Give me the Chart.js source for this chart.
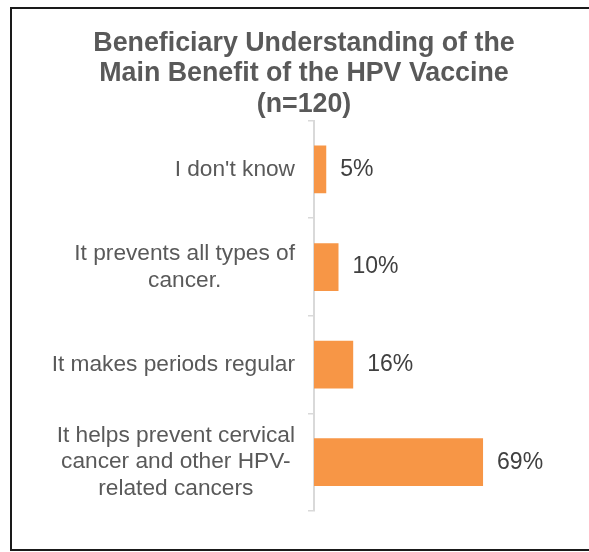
<!DOCTYPE html>
<html>
<head>
<meta charset="utf-8">
<script src="https://cdn.jsdelivr.net/npm/chart.js@4.4.1/dist/chart.umd.min.js"></script>
<style>
  html, body { margin: 0; padding: 0; background: #fff; overflow: hidden; }
  #wrap { position: absolute; left: 0; top: 0; width: 608px; height: 552px; }
  #frame { position: absolute; left: 10px; top: 7px; width: 700px; height: 544px;
           box-sizing: border-box; border: 2px solid #1a1a1a; pointer-events: none; }
</style>
</head>
<body>
<div id="wrap"><canvas id="chart" width="608" height="552"></canvas></div>
<div id="frame"></div>
<script>
// categories, top to bottom (each entry = lines of the label)
const categories = [
  ["I don't know"],
  ["It prevents all types of", "cancer."],
  ["It makes periods regular"],
  ["It helps prevent cervical", "cancer and other HPV-", "related cancers"]
];
// share of beneficiaries, in %
const shares = [5, 10, 16, 69];

const titleLines = [
  "Beneficiary Understanding of the",
  "Main Benefit of the HPV Vaccine",
  "(n=120)"
];

const FONT = "'Liberation Sans', Arial, Helvetica, sans-serif";
const xMax = 120;

// category labels: block right-aligned to the axis, lines centred inside the block
const catLabels = {
  id: 'catLabels',
  afterDraw(chart) {
    const ctx = chart.ctx;
    const y = chart.scales.y;
    const right = 295;
    const lh = 26.5;
    ctx.save();
    ctx.font = "22.7px " + FONT;
    ctx.fillStyle = '#595959';
    ctx.textAlign = 'center';
    ctx.textBaseline = 'middle';
    categories.forEach(function(lines, i) {
      let w = 0;
      lines.forEach(function(l) { w = Math.max(w, ctx.measureText(l).width); });
      const cx = right - w / 2;
      const cy = y.getPixelForValue(i);
      const top = cy - (lines.length - 1) * lh / 2;
      lines.forEach(function(l, k) { ctx.fillText(l, cx, top + k * lh); });
    });
    ctx.restore();
  }
};

// value labels to the right of each bar
const valueLabels = {
  id: 'valueLabels',
  afterDatasetsDraw(chart) {
    const ctx = chart.ctx;
    const meta = chart.getDatasetMeta(0);
    ctx.save();
    ctx.font = "23px " + FONT;
    ctx.fillStyle = '#404040';
    ctx.textAlign = 'left';
    ctx.textBaseline = 'middle';
    meta.data.forEach(function(bar, i) {
      ctx.fillText(shares[i] + '%', bar.x + 14, bar.y);
    });
    ctx.restore();
  }
};

new Chart(document.getElementById('chart'), {
  type: 'bar',
  data: {
    labels: categories.map(function(c) { return c.join(' '); }),
    datasets: [{
      data: shares,
      backgroundColor: '#F79646',
      categoryPercentage: 1,
      barPercentage: 0.49
    }]
  },
  options: {
    indexAxis: 'y',
    responsive: false,
    animation: false,
    layout: { padding: { top: 0, left: 0, right: 0, bottom: 41 } },
    plugins: {
      legend: { display: false },
      tooltip: { enabled: false },
      title: {
        display: true,
        text: titleLines,
        color: '#595959',
        font: { family: FONT, size: 26.8, weight: 'bold', lineHeight: 1.14 },
        padding: { top: 28, bottom: 1 }
      }
    },
    scales: {
      x: { display: false, min: 0, max: xMax },
      y: {
        afterFit: function(scale) { scale.width = 314; },
        ticks: { display: false },
        grid: {
          drawOnChartArea: false,
          drawTicks: true,
          tickLength: 6,
          color: '#D9D9D9',
          lineWidth: 1.5
        },
        border: { color: '#D9D9D9', width: 2 }
      }
    }
  },
  plugins: [catLabels, valueLabels]
});
</script>
</body>
</html>
